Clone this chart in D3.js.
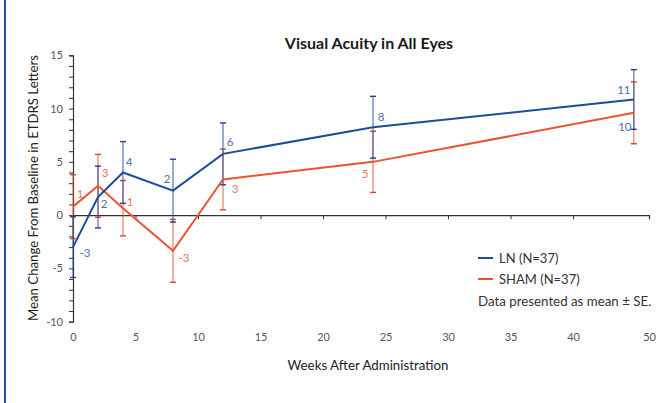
<!DOCTYPE html>
<html>
<head>
<meta charset="utf-8">
<script src="https://cdn.jsdelivr.net/npm/d3@7/dist/d3.min.js"></script>
<style>
  html, body { margin: 0; padding: 0; background: #fff; }
  svg { display: block; }
</style>
</head>
<body>
<svg id="chart" width="669" height="403"></svg>
<script>
// Visit schedule (weeks after administration)
const weeks = [0, 2, 4, 8, 12, 24, 48];

// Mean change from baseline (ETDRS letters) and standard errors
const lnMean   = [-3.0, 1.7, 4.0, 2.3, 5.75, 8.25, 10.85];
const lnSE     = [2.85, 2.9, 2.9, 2.95, 2.9, 2.9, 2.8];
const shamMean = [0.8, 2.75, 0.65, -3.35, 3.35, 5.0, 9.6];
const shamSE   = [3.0, 2.95, 2.6, 2.95, 2.85, 2.87, 2.9];

// Value labels printed beside each point
const lnLabels   = ["-3", "2", "4", "2", "6", "8", "11"];
const shamLabels = ["1", "3", "1", "-3", "3", "5", "10"];

// Axis ticks
const xTickLabels = [0, 5, 10, 15, 20, 25, 30, 35, 40, 50];
const yTickLabels = [-10, -5, 0, 5, 10, 15];

const seriesNames = ["LN (N=37)", "SHAM (N=37)"];

// ---------------------------------------------------------------
const svg = d3.select("#chart");

const BLUE = "#1f4b9e", BLUE_TXT = "#4f6fb5", BLUE_CAP = "#1f3f8f";
const RED = "#ec5330", RED_TXT = "#f0765a", RED_CAP = "#e0452a";
const FONT = "Lato, 'Open Sans', sans-serif";

// frame accent on the left edge
svg.append("rect").attr("x", 4).attr("y", 0).attr("width", 2).attr("height", 403).attr("fill", "#2c4f9e");

// x: linear to week 40, then compressed up to week 50
const x = d3.scaleLinear().domain([0, 40, 50]).range([73, 573, 649]);
const y = d3.scaleLinear().domain([-10, 15]).range([321.7, 55.3]);

// title
svg.append("text")
  .attr("x", 369).attr("y", 49)
  .attr("text-anchor", "middle")
  .attr("font-family", FONT).attr("font-weight", 700)
  .attr("font-size", 16).attr("fill", "#1a1a1a")
  .text("Visual Acuity in All Eyes");

// y axis: minor tick every letter, labels every 5
const yAxis = d3.axisLeft(y)
  .tickValues(d3.range(-10, 16, 1))
  .tickSize(4)
  .tickPadding(6)
  .tickFormat(d => yTickLabels.includes(d) ? d : "");
const gy = svg.append("g").attr("transform", `translate(${x(0)},0)`).call(yAxis);
gy.select(".domain").attr("stroke", "#333").attr("stroke-width", 1.2);
gy.selectAll(".tick line").attr("stroke", "#333").attr("stroke-width", 1);
gy.selectAll(".tick text").attr("font-family", FONT).attr("font-size", 11).attr("fill", "#555");

// x axis line along zero
const xAxisLine = d3.axisBottom(x)
  .tickValues(d3.range(5, 41, 5))
  .tickSize(4)
  .tickSizeOuter(4)
  .tickFormat("");
const gx = svg.append("g").attr("transform", `translate(0,${y(0)})`).call(xAxisLine);
gx.select(".domain").attr("stroke", "#333").attr("stroke-width", 1.2);
gx.selectAll(".tick line").attr("stroke", "#333").attr("stroke-width", 1);

// x tick labels under the plot
const xLabelAxis = d3.axisBottom(x).tickValues(xTickLabels).tickSize(0).tickPadding(0);
const gxl = svg.append("g").attr("transform", `translate(0,333)`).call(xLabelAxis);
gxl.select(".domain").remove();
gxl.selectAll(".tick text").attr("font-family", FONT).attr("font-size", 11).attr("fill", "#555");

// axis titles
svg.append("text")
  .attr("x", 368).attr("y", 370)
  .attr("text-anchor", "middle")
  .attr("font-family", FONT).attr("font-size", 13.3).attr("fill", "#222")
  .text("Weeks After Administration");
svg.append("text")
  .attr("transform", "translate(38,188) rotate(-90)")
  .attr("text-anchor", "middle")
  .attr("font-family", FONT).attr("font-size", 13.2).attr("fill", "#222")
  .text("Mean Change From Baseline in ETDRS Letters");

// series description
const series = [
  { mean: shamMean, se: shamSE, labels: shamLabels, line: RED, cap: RED_CAP, bar: RED,
    txt: [RED_TXT, RED_TXT, RED_TXT, RED_TXT, RED_TXT, RED_TXT, BLUE_TXT],
    off: [[7, -13], [7, -13], [7, -7], [11, 7], [12, 9], [-8, 12], [-9, 14]] },
  { mean: lnMean, se: lnSE, labels: lnLabels, line: BLUE, cap: BLUE_CAP, bar: BLUE,
    txt: Array(7).fill(BLUE_TXT),
    off: [[12, 5], [6, 6], [6, -11], [-6, -12], [7, -12], [8, -11], [-10, -10]] }
];

// error bars (mean ± SE)
series.forEach(s => {
  const g = svg.append("g");
  weeks.forEach((w, i) => {
    const lo = y(s.mean[i] - s.se[i]), hi = y(s.mean[i] + s.se[i]), cx = x(w);
    g.append("line").attr("x1", cx).attr("x2", cx).attr("y1", lo).attr("y2", hi)
      .attr("stroke", s.bar).attr("stroke-width", 1.4).attr("stroke-opacity", 0.65);
    [lo, hi].forEach(yy => g.append("line")
      .attr("x1", cx - 3).attr("x2", cx + 3).attr("y1", yy).attr("y2", yy)
      .attr("stroke", s.cap).attr("stroke-width", 1.4));
  });
});

// mean lines
const line = d3.line().x(d => x(d[0])).y(d => y(d[1]));
series.forEach(s => {
  svg.append("path")
    .datum(weeks.map((w, i) => [w, s.mean[i]]))
    .attr("d", line)
    .attr("fill", "none")
    .attr("stroke", s.line)
    .attr("stroke-width", 2)
    .attr("stroke-linejoin", "miter");
});

// value labels
series.forEach(s => {
  weeks.forEach((w, i) => {
    svg.append("text")
      .attr("x", x(w) + s.off[i][0])
      .attr("y", y(s.mean[i]) + s.off[i][1])
      .attr("text-anchor", "middle")
      .attr("dominant-baseline", "central")
      .attr("font-family", FONT).attr("font-size", 11.5)
      .attr("fill", s.txt[i])
      .text(s.labels[i]);
  });
});

// legend
const legend = svg.append("g").attr("transform", "translate(478,258)");
[BLUE, RED].forEach((c, i) => {
  const row = legend.append("g").attr("transform", `translate(0,${i * 21})`);
  row.append("line").attr("x1", 0).attr("x2", 15).attr("y1", 0).attr("y2", 0)
    .attr("stroke", c).attr("stroke-width", 2);
  row.append("text").attr("x", 21).attr("y", 0)
    .attr("dominant-baseline", "central")
    .attr("font-family", FONT).attr("font-size", 13).attr("fill", "#333")
    .text(seriesNames[i]);
});
legend.append("text").attr("x", 0).attr("y", 43)
  .attr("dominant-baseline", "central")
  .attr("font-family", FONT).attr("font-size", 13.3).attr("fill", "#333")
  .text("Data presented as mean \u00b1 SE.");
</script>
</body>
</html>
